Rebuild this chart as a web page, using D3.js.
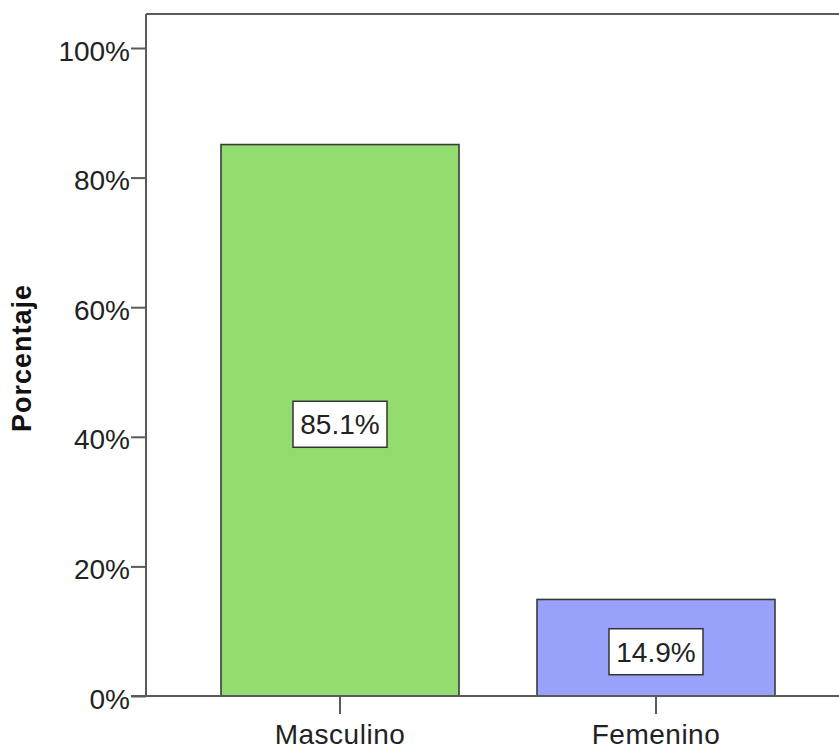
<!DOCTYPE html>
<html>
<head>
<meta charset="utf-8">
<script src="https://cdn.jsdelivr.net/npm/d3@7"></script>
<style>
  body { margin: 0; background: #fff; }
  svg { display: block; }
  text { font-family: "Liberation Sans", Arial, sans-serif; }
</style>
</head>
<body>
<svg id="chart" width="839" height="748"></svg>
<script>
// Gender distribution (percent of respondents)
const categories = ["Masculino", "Femenino"];
const percentages = [85.1, 14.9];
const barColors = ["#93dc70", "#99a2fa"];
const yTicks = [0, 20, 40, 60, 80, 100];

const svg = d3.select("#chart");
const W = 839, H = 748;
const plotLeft = 146, plotTop = 14, plotBottom = 696;

const y = d3.scaleLinear().domain([0, 100]).range([plotBottom, 48]);
const x = d3.scaleBand()
  .domain(categories)
  .range([182, 814])
  .paddingInner(78 / 316)
  .paddingOuter(39 / 316);

const frame = "#5a5a5a";

// bars
svg.selectAll("rect.bar")
  .data(categories)
  .join("rect")
  .attr("class", "bar")
  .attr("x", d => x(d))
  .attr("y", (d, i) => y(percentages[i]))
  .attr("width", x.bandwidth())
  .attr("height", (d, i) => plotBottom - y(percentages[i]))
  .attr("fill", (d, i) => barColors[i])
  .attr("stroke", "#3a3a3a")
  .attr("stroke-width", 1.6);

// value labels in boxes at the middle of each bar
const labels = svg.selectAll("g.vlabel")
  .data(categories)
  .join("g")
  .attr("class", "vlabel")
  .attr("transform", (d, i) => {
    const cy = (y(percentages[i]) + plotBottom) / 2 + 4;
    return `translate(${x(d) + x.bandwidth() / 2},${cy})`;
  });
labels.append("rect")
  .attr("x", -47).attr("y", -23)
  .attr("width", 94).attr("height", 46)
  .attr("fill", "#fff")
  .attr("stroke", "#333")
  .attr("stroke-width", 1.5);
labels.append("text")
  .attr("text-anchor", "middle")
  .attr("dy", "0.36em")
  .attr("font-size", 28)
  .attr("fill", "#222")
  .text((d, i) => percentages[i].toFixed(1) + "%");

// y axis
const yAxis = d3.axisLeft(y)
  .tickValues(yTicks)
  .tickFormat(d => d + "%")
  .tickSize(15)
  .tickPadding(1);
const gy = svg.append("g").attr("transform", `translate(${plotLeft},0)`).call(yAxis);
gy.select(".domain").remove();
gy.selectAll(".tick line").attr("stroke", frame).attr("stroke-width", 2);
gy.selectAll(".tick text")
  .attr("font-size", 28)
  .attr("dy", "0.43em")
  .attr("fill", "#222")
  .attr("font-family", "Liberation Sans, Arial, sans-serif");

// x axis
const xAxis = d3.axisBottom(x).tickSize(18).tickPadding(10);
const gx = svg.append("g").attr("transform", `translate(0,${plotBottom})`).call(xAxis);
gx.select(".domain").remove();
gx.selectAll(".tick line").attr("stroke", frame).attr("stroke-width", 2);
gx.selectAll(".tick text")
  .attr("font-size", 28)
  .attr("letter-spacing", 0.5)
  .attr("fill", "#222")
  .attr("font-family", "Liberation Sans, Arial, sans-serif");

// frame lines
svg.append("line").attr("x1", plotLeft).attr("x2", plotLeft).attr("y1", plotTop).attr("y2", plotBottom)
  .attr("stroke", frame).attr("stroke-width", 2);
svg.append("line").attr("x1", plotLeft).attr("x2", W).attr("y1", plotTop).attr("y2", plotTop)
  .attr("stroke", frame).attr("stroke-width", 2);
svg.append("line").attr("x1", 131).attr("x2", W).attr("y1", plotBottom).attr("y2", plotBottom)
  .attr("stroke", frame).attr("stroke-width", 2);

// y axis title
svg.append("text")
  .attr("transform", `translate(31,358) rotate(-90)`)
  .attr("text-anchor", "middle")
  .attr("font-size", 27)
  .attr("letter-spacing", 1)
  .attr("font-weight", "bold")
  .attr("fill", "#111")
  .text("Porcentaje");
</script>
</body>
</html>
